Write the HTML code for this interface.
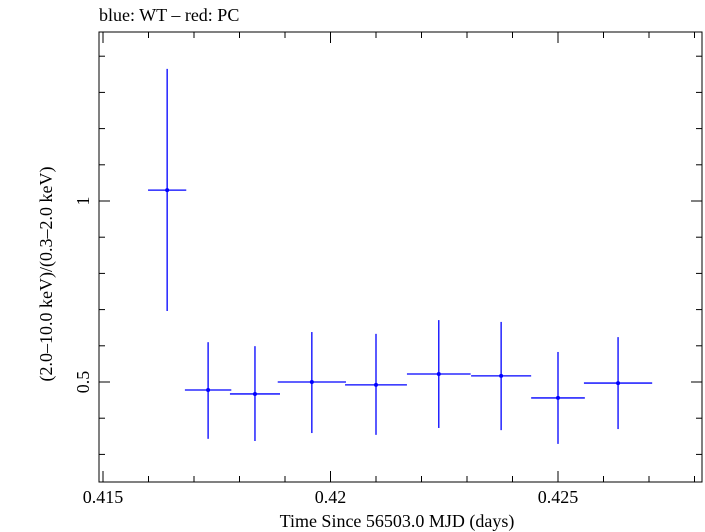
<!DOCTYPE html>
<html><head><meta charset="utf-8"><style>
html,body{margin:0;padding:0;background:#fff;}
svg{display:block;font-family:"Liberation Serif",serif;}
</style></head><body>
<svg id="chart" width="705" height="532" viewBox="0 0 705 532" xmlns="http://www.w3.org/2000/svg">
<text x="99" y="21" font-size="18">blue: WT – red: PC</text>
<rect x="99" y="32" width="603" height="450" fill="none" stroke="#000" stroke-width="1"/>
<g id="ticks"></g>
<g id="marks"></g>
<text x="397" y="527" font-size="18" text-anchor="middle">Time Since 56503.0 MJD (days)</text>
<text transform="translate(52,274) rotate(-90)" font-size="18" text-anchor="middle">(2.0–10.0 keV)/(0.3–2.0 keV)</text>
</svg>
<script>
const times=[0.41641,0.41731,0.41834,0.41959,0.42100,0.42238,0.42375,0.42500,0.42632];
const timeErr=[0.00042,0.00051,0.00055,0.00075,0.00068,0.00070,0.00066,0.00059,0.00075];
const ratios=[1.030,0.478,0.467,0.500,0.492,0.522,0.517,0.456,0.497];
const ratioHi=[1.365,0.610,0.599,0.638,0.633,0.671,0.666,0.583,0.624];
const ratioLo=[0.696,0.343,0.337,0.359,0.354,0.373,0.367,0.329,0.370];
const xTickLabels=["0.415","0.42","0.425"];
const xTickValues=[0.415,0.42,0.425];
const yTickLabels=["0.5","1"];
const yTickValues=[0.5,1];

const L=99,R=702,T=32,B=482;
function xs(v){return 103+(v-0.415)/0.005*227.5;}
function ys(v){return 201-(v-1)*362;}
const NS="http://www.w3.org/2000/svg";
function mk(tag,attrs,parent){const e=document.createElementNS(NS,tag);for(const k in attrs)e.setAttribute(k,attrs[k]);parent.appendChild(e);return e;}
const tg=document.getElementById('ticks');
for(let i=0;i<=13;i++){
  const v=0.415+i*0.001;const x=xs(v);if(x>R)break;
  const major=(i%5===0);const len=major?11:6;
  const t1=mk('line',{x1:x,x2:x,y1:B,y2:B-len,stroke:'#000'},tg);
  
  
  const t2=mk('line',{x1:x,x2:x,y1:T,y2:T+len,stroke:'#000'},tg);
  
  
}
xTickLabels.forEach((lab,i)=>{
  const t=mk('text',{x:xs(xTickValues[i]),y:503,'font-size':18,'text-anchor':'middle'},tg);
  t.textContent=lab;
  
  
});
for(let i=2;i<=14;i++){
  const v=i*0.1;const y=ys(v);if(y<T||y>B)continue;
  const major=(i%5===0);const len=major?11:6;
  const t1=mk('line',{x1:L,x2:L+len,y1:y,y2:y,stroke:'#000'},tg);
  
  
  const t2=mk('line',{x1:R,x2:R-len,y1:y,y2:y,stroke:'#000'},tg);
  
  
}
yTickLabels.forEach((lab,i)=>{
  const y=ys(yTickValues[i]);
  const t=mk('text',{transform:`translate(89,${y}) rotate(-90)`,'font-size':18,'text-anchor':'middle'},tg);
  t.textContent=lab;
  
  
});
const mg=document.getElementById('marks');
times.forEach((t,i)=>{
  const cx=xs(t),cy=ys(ratios[i]);
  const h=mk('line',{x1:xs(t-timeErr[i]),x2:xs(t+timeErr[i]),y1:cy,y2:cy,stroke:'#0000ff','stroke-width':1.3},mg);
  
  
  const v=mk('line',{x1:cx,x2:cx,y1:ys(ratioHi[i]),y2:ys(ratioLo[i]),stroke:'#0000ff','stroke-width':1.3},mg);
  
  
  const p=mk('circle',{cx:cx,cy:cy,r:2,fill:'#0000ff'},mg);
  
  
});
</script>
</body></html>
